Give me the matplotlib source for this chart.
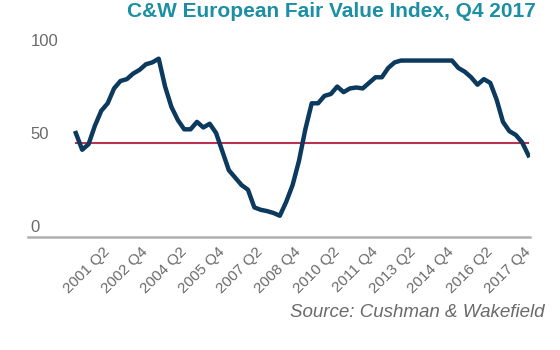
import matplotlib
matplotlib.use("Agg")
from matplotlib import pyplot

# quarterly index values, 2000 Q1 .. 2017 Q4
quarters = [f"{y} Q{q}" for y in range(2000, 2018) for q in range(1, 5)]
fair_value = [50, 41, 44, 54, 62, 66, 74, 78, 79, 82,
              84, 87, 88, 90, 75, 64, 57, 52, 52, 56,
              53, 55, 50, 40, 30, 26, 22, 19.5, 10, 8.7,
              8, 7, 5.5, 13, 22, 35, 52, 66, 66, 70,
              71, 75, 72, 74, 74.5, 74, 77, 80, 80, 85,
              88, 89, 89, 89, 89, 89, 89, 89, 89, 89,
              85, 83, 80, 76, 79, 77, 68, 56, 51, 49,
              45, 38]
long_term_avg = [44.6] * len(quarters)
label_every = 6
first_label = quarters.index("2001 Q2")

x = list(range(len(quarters)))

fig = pyplot.figure(figsize=(5.6, 3.5), dpi=100, facecolor="w")
ax = fig.add_axes([0.05, 0.323, 0.896, 0.589])

ax.plot(x, long_term_avg, color="#b8334f", linewidth=1.5, zorder=2)
ax.plot(x, fair_value, color="#0c3a5f", linewidth=3.2, solid_joinstyle="round", zorder=3)

ax.set_xlim(-7.5, 71.2)
ax.set_ylim(-5.9, 105)

for side in ["top", "right", "left"]:
    ax.spines[side].set_visible(False)
ax.spines["bottom"].set_color("#b0b0b0")
ax.spines["bottom"].set_linewidth(1.8)

ax.set_yticks([0, 50, 100])
ax.set_yticklabels(["0", "50", "100"], fontsize=12, color="#6a6a6a", family="Liberation Sans")
for lab in ax.get_yticklabels():
    lab.set_horizontalalignment("left")
ax.tick_params(axis="y", length=0, pad=-2)

ticks = x[first_label::label_every]
ax.set_xticks(ticks)
ax.set_xticklabels([quarters[i] for i in ticks], rotation=45, ha="right", va="center",
                   rotation_mode="anchor", fontsize=11, color="#6a6a6a", family="Liberation Sans")
ax.tick_params(axis="x", length=0, pad=9)

fig.text(0.591, 0.967, "C&W European Fair Value Index, Q4 2017", ha="center", va="center",
         fontsize=15, fontweight="bold", color="#1b8fa3", family="Liberation Sans")
fig.text(0.973, 0.106, "Source: Cushman & Wakefield", ha="right", va="center",
         fontsize=13.5, style="italic", color="#6a6a6a", family="Liberation Sans")

pyplot.savefig("out.png", dpi=100, facecolor="w")
